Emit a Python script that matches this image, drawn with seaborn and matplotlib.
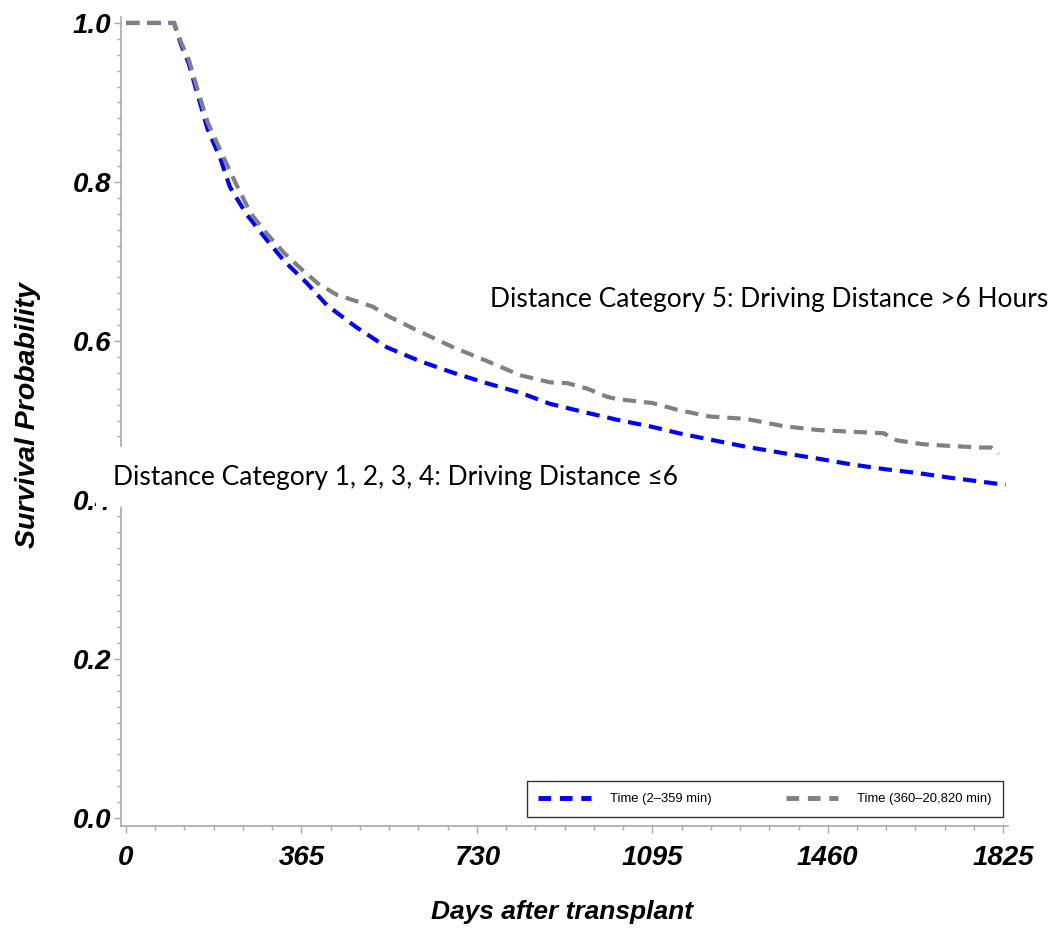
import numpy as np
import pandas as pd
import matplotlib
matplotlib.use("Agg")
import matplotlib.pyplot as plt
import seaborn as sns
from matplotlib.ticker import MultipleLocator
from matplotlib.lines import Line2D
from matplotlib.patches import Rectangle

# ---- data ----
groups = ["Time (2\u2013359 min)", "Time (360\u201320,820 min)"]
colors = ["#0000FF", "#808080"]

days_short = [0, 100, 115, 130, 148, 170, 196, 216, 250, 293, 330, 376, 418, 451,
              480, 543, 610, 681, 750, 820, 882, 950, 1021, 1095, 1150, 1215, 1290,
              1367, 1440, 1507, 1576, 1646, 1715, 1780, 1830]
surv_short = [1.0, 1.0, 0.972, 0.95, 0.912, 0.866, 0.83, 0.794, 0.76, 0.727, 0.70,
              0.673, 0.645, 0.630, 0.617, 0.592, 0.575, 0.560, 0.547, 0.535, 0.521,
              0.511, 0.501, 0.492, 0.484, 0.476, 0.467, 0.459, 0.452, 0.445, 0.439,
              0.434, 0.428, 0.423, 0.419]

days_long = [0, 100, 115, 130, 148, 170, 196, 227, 260, 293, 330, 362, 400, 439,
             480, 514, 543, 600, 681, 750, 820, 882, 918, 960, 1000, 1021, 1095,
             1150, 1215, 1290, 1367, 1440, 1507, 1576, 1604, 1660, 1715, 1780, 1800,
             1815]
surv_long = [1.0, 1.0, 0.975, 0.955, 0.918, 0.875, 0.84, 0.80, 0.76, 0.735, 0.71,
             0.692, 0.672, 0.658, 0.65, 0.643, 0.632, 0.615, 0.592, 0.575, 0.557,
             0.548, 0.547, 0.54, 0.53, 0.527, 0.522, 0.513, 0.505, 0.502, 0.493,
             0.488, 0.486, 0.484, 0.475, 0.47, 0.468, 0.466, 0.466, 0.458]

xticks = [0, 365, 730, 1095, 1460, 1825]
yticks = [0.0, 0.2, 0.4, 0.6, 0.8, 1.0]
ytick_labels = ["0.0", "0.2", "0.4", "0.6", "0.8", "1.0"]

label_upper = "Distance Category 5: Driving Distance >6 Hours"
label_lower = "Distance Category 1, 2, 3, 4: Driving Distance \u22646"

df = pd.concat([
    pd.DataFrame({"day": days_short, "surv": surv_short, "group": groups[0]}),
    pd.DataFrame({"day": days_long, "surv": surv_long, "group": groups[1]}),
])

sns.set_style("ticks")
plt.rcParams["font.family"] = ["Liberation Sans", "DejaVu Sans"]
plt.rcParams["text.color"] = "black"
plt.rcParams["xtick.color"] = "black"
plt.rcParams["ytick.color"] = "black"

W, H = 1057, 934
fig = plt.figure(figsize=(W / 100, H / 100), dpi=100)
ax = fig.add_axes([121 / W, 1 - 826 / H, 887 / W, 809 / H])

LW = 3.0
DASH = (3.2, 1.9)
sns.lineplot(data=df, x="day", y="surv", hue="group", hue_order=groups,
             palette=colors, estimator=None, sort=False, lw=LW, legend=False, ax=ax)
for ln in ax.lines:
    ln.set_dashes(DASH)
    ln.set_dash_capstyle("butt")

ax.set_xlim(-10.4, 1835)
ax.set_ylim(-0.01, 1.0075)

tick_font = dict(family="Liberation Sans", weight="bold", style="italic", size=20)
ax.set_xticks(xticks)
ax.set_xticklabels([str(t) for t in xticks], **tick_font)
ax.set_yticks(yticks)
ax.set_yticklabels(ytick_labels, **tick_font)
ax.xaxis.set_minor_locator(MultipleLocator(365 / 6))
ax.yaxis.set_minor_locator(MultipleLocator(0.02))
gray = "#A8A8A8"
ax.tick_params(which="major", length=5, width=1, color=gray, labelcolor="black")
ax.tick_params(which="minor", length=3.2, width=1, color=gray)
ax.tick_params(axis="y", which="major", pad=2)
ax.tick_params(axis="x", which="major", pad=9)
for s in ["top", "right"]:
    ax.spines[s].set_visible(False)
for s in ["left", "bottom"]:
    ax.spines[s].set_color(gray)
    ax.spines[s].set_linewidth(1.2)
ax.set_xlabel("")
ax.set_ylabel("")

fig.text(28 / W, 1 - 415 / H, "Survival Probability", rotation=90,
         ha="center", va="center", family="Liberation Sans", weight="bold",
         style="italic", size=20.5)
fig.text(562 / W, 1 - 912 / H, "Days after transplant", ha="center", va="center",
         family="Liberation Sans", weight="bold", style="italic", size=19)

# legend
handles = [Line2D([], [], color=c, lw=LW + 0.5, dashes=(2.6, 1.8)) for c in colors]
leg = ax.legend(handles, groups, ncol=2, loc="lower right",
                bbox_to_anchor=((1003 - 121) / 887, (826 - 817) / 809),
                borderaxespad=0, fontsize=9.4, handlelength=4.0,
                handletextpad=1.45, columnspacing=5.7, frameon=True,
                fancybox=False, borderpad=0.9)
leg.get_frame().set_edgecolor("black")
leg.get_frame().set_linewidth(1.0)

# white box behind the lower annotation (covers part of the axis as in the original)
fig.patches.append(Rectangle((96 / W, 1 - 507 / H), (690 - 96) / W, 60 / H,
                             transform=fig.transFigure, facecolor="white",
                             edgecolor="none", zorder=4))

ann_font = dict(family=["Lato", "DejaVu Sans"], size=19)
fig.text(490 / W, 1 - 300 / H, label_upper, ha="left", va="center", zorder=5,
         bbox=dict(boxstyle="square,pad=0.2", fc="white", ec="none"), **ann_font)
fig.text(113 / W, 1 - 477 / H, label_lower, ha="left", va="center", zorder=5,
         **ann_font)

fig.savefig("out.png", dpi=100)
